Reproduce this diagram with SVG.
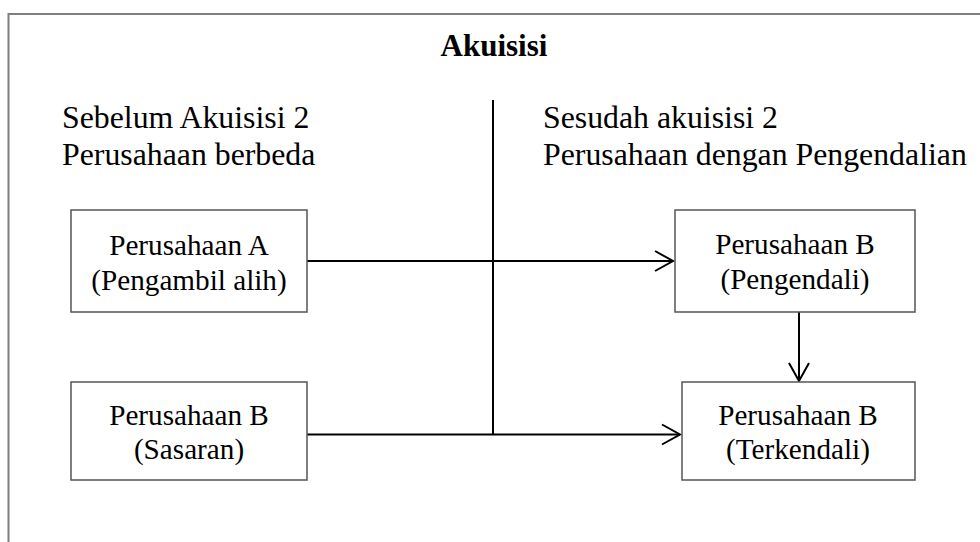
<svg xmlns="http://www.w3.org/2000/svg" width="980" height="542" viewBox="0 0 980 542">
<style>
.t{font-family:"Liberation Serif","Times New Roman",serif;fill:#000}
.h{font-size:31.8px}
.b{font-size:29.2px}
.box{fill:#fff;stroke:#555;stroke-width:1.5}
.c{stroke:#000;stroke-width:2;fill:none}
.ah{stroke:#000;stroke-width:2;fill:none}
</style>
<defs>
<marker id="arr" markerUnits="userSpaceOnUse" markerWidth="24" markerHeight="24" refX="19" refY="11" orient="auto" viewBox="0 0 24 22">
<path d="M1,1 L19,11 L1,21" class="ah"/>
</marker>
</defs>
<rect width="980" height="542" fill="#fff"/>
<path d="M8.5,542 V14 H980" fill="none" stroke="#7f7f7f" stroke-width="2"/>
<text class="t" x="494" y="55.5" text-anchor="middle" font-size="31" font-weight="bold">Akuisisi</text>
<g id="label-before">
<text class="t h" x="62" y="128">Sebelum Akuisisi 2</text>
<text class="t h" x="62" y="165">Perusahaan berbeda</text>
</g>
<g id="label-after">
<text class="t h" x="543" y="127.5">Sesudah akuisisi 2</text>
<text class="t h" x="543" y="165">Perusahaan dengan Pengendalian</text>
</g>
<g id="connectors">
<line class="c" x1="493" y1="100" x2="493" y2="434"/>
<line class="c" x1="307" y1="261" x2="673" y2="261" marker-end="url(#arr)"/>
<line class="c" x1="307" y1="434.5" x2="680" y2="434.5" marker-end="url(#arr)"/>
<line class="c" x1="799" y1="312" x2="799" y2="381" marker-end="url(#arr)"/>
</g>
<g id="node-a">
<rect class="box" x="71" y="210" width="236" height="102"/>
<text class="t b" x="189" y="255" text-anchor="middle">Perusahaan A</text>
<text class="t b" x="189" y="290" text-anchor="middle">(Pengambil alih)</text>
</g>
<g id="node-b-sasaran">
<rect class="box" x="71" y="382" width="236" height="98"/>
<text class="t b" x="189" y="425" text-anchor="middle">Perusahaan B</text>
<text class="t b" x="189" y="459" text-anchor="middle">(Sasaran)</text>
</g>
<g id="node-b-pengendali">
<rect class="box" x="675" y="210" width="240" height="102"/>
<text class="t b" x="795" y="254" text-anchor="middle">Perusahaan B</text>
<text class="t b" x="795" y="289" text-anchor="middle">(Pengendali)</text>
</g>
<g id="node-b-terkendali">
<rect class="box" x="682" y="382" width="233" height="98"/>
<text class="t b" x="798" y="425" text-anchor="middle">Perusahaan B</text>
<text class="t b" x="798" y="459" text-anchor="middle">(Terkendali)</text>
</g>
</svg>
